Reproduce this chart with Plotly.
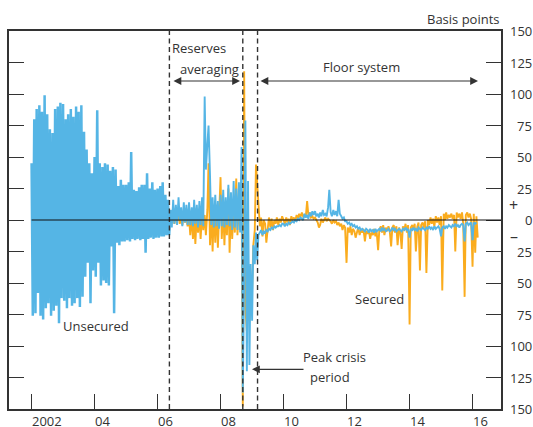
import pandas as pd
import plotly.graph_objects as go

# ---------------- data (basis points, semi-monthly readings) ----------------
UNSEC_2002 = [45, -76, 80, -74, 88, -58, 91, -76, 86, -79, 99, -70, 84, -66, 72, -76, 69, -72, 88, -68, 90, -82, 93, -62]
UNSEC_2003 = [92, -64, 80, -70, 84, -62, 88, -68, 82, -66, 90, -62, 86, -69, 91, -61, 70, -45, 56, -34, 45, -66, 37, -40]
UNSEC_2004 = [50, -45, 87, -34, 45, -52, 42, -48, 45, -50, 44, -52, 39, -21, 42, -74, 40, -18, 27, -20, 32, -17, 28, -17]
UNSEC_2005 = [28, -16, 30, -17, 54, -15, 24, -16, 23, -15, 26, -16, 28, -15, 28, -26, 37, -15, 25, -14, 30, -15, 24, -14]
UNSEC_2006 = [25, -14, 27, -13, 30, -13, 20, -12, 16, -12, 8, -6, 16, -3, 12, -4, 18, 0, 10, -5, 14, -2, 12, -4]
UNSEC_2007 = [14, -4, 10, -5, 16, -3, 12, -6, 15, -4, 18, -5, 98, 40, 60, 75, 35, -4, 18, -6, 20, -5, 15, -7]
UNSEC_2008 = [20, -5, 24, -6, 18, -4, 28, -5, 22, -8, 31, -6, 25, -8, 30, -10, 58, -137, -45, 79, -120, 31, -115, -35]
UNSEC_2009 = [-80, -20, -35, -10, -32, -12, -10, -8, -12, -9, -10, -8, -9, -7, -8, -6, -7, -5, -6, -5, -5, -4, -5, -3]
UNSEC_2010 = [-3, -5, -3, -4, -2, -3, -2, -1, -2, 0, -1, 1, 0, 2, 1, 0, 5, 2, 4, 1, 6, 3, 7, 4]
UNSEC_2011 = [7, 3, 5, 2, 6, 3, 8, 4, 5, 3, 10, 24, 6, 3, 8, 4, 7, 3, 16, 5, 3, 1, 2, -1]
UNSEC_2012 = [-1, -3, -2, -4, -3, -5, -4, -6, -5, -7, -6, -8, -7, -8, -9, -7, -8, -10, -7, -9, -8, -10, -7, -9]
UNSEC_2013 = [-8, -7, -9, -6, -8, -7, -9, -8, -7, -9, -8, -6, -8, -7, -9, -8, -7, -8, -9, -7, -8, -6, -8, -7]
UNSEC_2014 = [-14, -7, -8, -6, -8, -7, -9, -6, -7, -8, -6, -7, -8, -6, -7, -5, -7, -6, -8, -5, -7, -6, -5, -7]
UNSEC_2015 = [-13, -6, -5, -7, -5, -6, -4, -5, -6, -4, -5, -3, -5, -4, -6, -4, -3, -4, -17, -3, -2, -4, -3, -2]
UNSEC_2016 = [-16, -2, -3, -2]
UNSEC_START = "2002-01-01"

SEC_2006 = [2, -2, 4, -3, 3, -1, 5, -3, 2, -4, 4, -2, 3, -5]
SEC_2007 = [2, -12, 4, -15, 2, -19, 5, -10, 3, -15, 6, -8, 4, -12, 8, 45, -20, 10, -25, 8, -18, 12, -22, 6]
SEC_2008 = [34, -15, 10, -20, 8, -12, 25, -26, 12, -15, 10, -10, 33, -12, 15, -8, 20, -148, 118, -70, -88, -62, -80, -65]
SEC_2009 = [-55, -20, -8, 44, 28, 8, -5, 2, -13, 0, -3, -18, -4, 2, -6, 1, -8, 0, -3, 2, -4, 1, -2, 3]
SEC_2010 = [0, -3, 2, -2, 1, -4, 3, 0, 2, -1, 4, 1, 5, 2, 6, 3, 4, 2, 15, 4, 6, 2, 3, 1]
SEC_2011 = [2, 0, -2, -6, -4, 1, -2, 0, 2, -1, 1, 0, -1, -3, 0, -2, -1, -4, -2, -5, -3, -8, -4, -6]
SEC_2012 = [-34, -6, -10, -5, -12, -7, -9, -14, -8, -6, -12, -8, -10, -7, -17, -9, -11, -8, -15, -10, -12, -7, -13, -9]
SEC_2013 = [-24, -8, -5, -10, -4, -12, -6, -9, -5, -8, -21, -6, -4, -10, -5, -20, -6, -9, -23, -5, -8, -3, -10, -4]
SEC_2014 = [-83, -6, -4, -8, -3, -25, -5, -2, -40, -4, -2, -6, -1, -42, 0, -4, 2, -3, 1, -5, 3, -2, 2, -4]
SEC_2015 = [3, -56, 5, 0, 6, 1, 4, 2, 5, 1, 4, -25, 6, 2, 5, 1, 6, -3, -61, 4, 6, 2, 5, 1]
SEC_2016 = [-37, 5, -26, 3, -14]
SEC_START = "2006-06-01"

REGIME_DATES = ["2006-05-18", "2008-09-15", "2009-03-05"]
YEAR_TICKS = [2002, 2004, 2006, 2008, 2010, 2012, 2014, 2016]
YEAR_LABELS = ["2002", "04", "06", "08", "10", "12", "14", "16"]
Y_TICKS = [-150, -125, -100, -75, -50, -25, 0, 25, 50, 75, 100, 125, 150]
Y_LABELS = ["150", "125", "100", "75", "50", "25", "0", "25", "50", "75", "100", "125", "150"]

unsecured = (UNSEC_2002 + UNSEC_2003 + UNSEC_2004 + UNSEC_2005 + UNSEC_2006 + UNSEC_2007 +
             UNSEC_2008 + UNSEC_2009 + UNSEC_2010 + UNSEC_2011 + UNSEC_2012 + UNSEC_2013 +
             UNSEC_2014 + UNSEC_2015 + UNSEC_2016)
secured = (SEC_2006 + SEC_2007 + SEC_2008 + SEC_2009 + SEC_2010 + SEC_2011 + SEC_2012 +
           SEC_2013 + SEC_2014 + SEC_2015 + SEC_2016)
unsec_dates = pd.date_range(UNSEC_START, periods=len(unsecured), freq="SMS")
sec_dates = pd.date_range(SEC_START, periods=len(secured), freq="SMS")

# ---------------- layout helpers ----------------
W, H = 533, 427
ML, MR, MT, MB = 9, 32, 31, 18
PW, PH = W - ML - MR, H - MT - MB


def yd(v):
    y = int(v)
    days = 366 if (y % 4 == 0) else 365
    ts = pd.Timestamp(y, 1, 1) + pd.Timedelta(days=(v - y) * days)
    return ts.strftime("%Y-%m-%d %H:%M")


def px2yr(px):
    return 2002 + (px - 31.6) / 31.5


def P(px, py):
    return (px - ML) / PW, (H - MB - py) / PH


FONT = "Open Sans"
TXT = "#333333"
BLUE = "#55B5E5"
ORANGE = "#FAAC1E"

# the volatile corridor period is drawn with a heavier stroke (same series)
split = int((unsec_dates <= pd.Timestamp(SEC_START)).sum())

fig = go.Figure()
fig.add_trace(go.Scatter(x=sec_dates, y=secured, mode="lines", name="Secured",
                         line=dict(color=ORANGE, width=1.9)))
fig.add_trace(go.Scatter(x=unsec_dates[:split], y=unsecured[:split], mode="lines",
                         name="Unsecured", line=dict(color=BLUE, width=2.5)))
fig.add_trace(go.Scatter(x=unsec_dates[split - 1:], y=unsecured[split - 1:], mode="lines",
                         name="Unsecured", line=dict(color=BLUE, width=1.9)))

x_lo, x_hi = yd(px2yr(ML)), yd(px2yr(ML + PW))

shapes = []
for d in REGIME_DATES:
    shapes.append(dict(type="line", xref="x", yref="paper", x0=d, x1=d, y0=0, y1=1,
                       line=dict(color=TXT, width=1.4, dash="5px,3.5px"), layer="above"))
shapes.append(dict(type="line", xref="x", yref="y", x0=UNSEC_START, x1=x_hi, y0=0, y1=0,
                   line=dict(color="#111111", width=1.2), layer="above"))

ann = []


def text(s, px, py, xanchor="center", size=13):
    x, y = P(px, py)
    ann.append(dict(text=s, x=x, y=y, xref="paper", yref="paper", showarrow=False,
                    xanchor=xanchor, yanchor="middle",
                    font=dict(family=FONT, size=size, color=TXT)))


def arrow(head_px, tail_px, py, both=True):
    x, y = P(head_px, py)
    ann.append(dict(text="", x=x, y=y, xref="paper", yref="paper", showarrow=True,
                    ax=tail_px - head_px, ay=0, axref="pixel", ayref="pixel",
                    arrowside="end+start" if both else "end",
                    arrowhead=2, startarrowhead=2, arrowsize=1.3, startarrowsize=1.3,
                    arrowwidth=1.2, arrowcolor=TXT, standoff=0, startstandoff=0))


text("Reserves", 199, 48)
text("averaging", 209.5, 69)
arrow(240, 172, 81)
text("Floor system", 361, 67)
arrow(478, 259, 81)
text("Peak crisis", 334.5, 357)
text("period", 329.5, 377)
arrow(252, 305, 369.3, both=False)
text("Unsecured", 96, 326)
text("Secured", 379.5, 299)
text("Basis points", 502.5, 19, xanchor="right")
text("+", 513.7, 205, size=16)
text("\u2013", 513.7, 236, size=16)

for v, lab in zip(Y_TICKS, Y_LABELS):
    ann.append(dict(text=lab, x=1, y=v, xref="paper", yref="y", showarrow=False,
                    xanchor="right", yanchor="middle", xshift=33,
                    font=dict(family=FONT, size=13, color=TXT)))
for yr, lab in zip(YEAR_TICKS, YEAR_LABELS):
    ann.append(dict(text=lab, x=f"{yr}-01-01", y=0, xref="x", yref="paper", showarrow=False,
                    xanchor="left", yanchor="top", xshift=-2, yshift=-1,
                    font=dict(family=FONT, size=13, color=TXT)))

fig.update_layout(
    width=W, height=H,
    margin=dict(l=ML, r=MR, t=MT, b=MB, pad=0, autoexpand=False),
    paper_bgcolor="white", plot_bgcolor="white",
    showlegend=False,
    shapes=shapes, annotations=ann,
    xaxis=dict(type="date", range=[x_lo, x_hi], showgrid=False, zeroline=False,
               showline=True, mirror=True, linecolor=TXT, linewidth=1.5,
               ticks="inside", ticklen=15, tickwidth=1.3, tickcolor=TXT,
               tickvals=[f"{y}-01-01" for y in YEAR_TICKS], showticklabels=False,
               automargin=False),
    yaxis=dict(range=[-150, 150], showgrid=False, zeroline=False,
               showline=True, mirror="ticks", linecolor=TXT, linewidth=1.5,
               ticks="inside", ticklen=15, tickwidth=1.3, tickcolor=TXT,
               tickvals=Y_TICKS, showticklabels=False, automargin=False),
)

fig.write_html("out.html", config={"responsive": False, "displayModeBar": False},
               post_script="document.body.style.margin='0';document.body.style.overflow='hidden';")
